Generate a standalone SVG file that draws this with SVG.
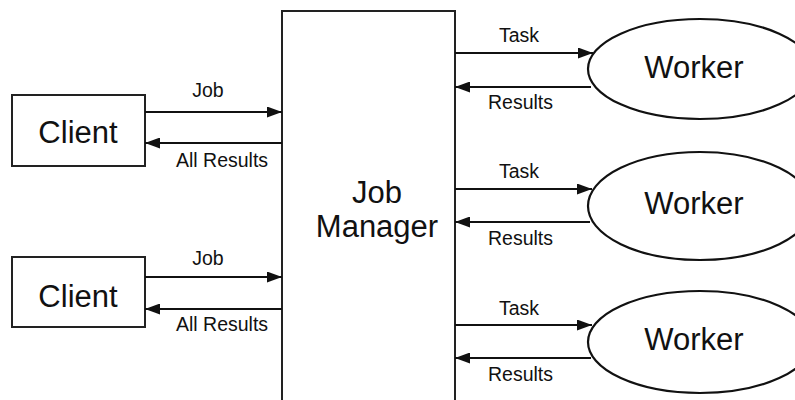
<svg xmlns="http://www.w3.org/2000/svg" width="795" height="400" viewBox="0 0 795 400">
<style>
.box{fill:#fff;stroke:#222;stroke-width:2}
.ell{fill:#fff;stroke:#111;stroke-width:2.2}
.big{font-family:"Liberation Sans",Arial,sans-serif;font-size:31px;fill:#111;text-anchor:middle}
.sm{font-family:"Liberation Sans",Arial,sans-serif;font-size:19.5px;fill:#111}
.c{text-anchor:middle}
.ln{stroke:#111;stroke-width:2.2;fill:none;marker-end:url(#ah)}
</style>
<defs>
<marker id="ah" viewBox="0 0 15 11" refX="15" refY="5.5" markerWidth="15" markerHeight="11" markerUnits="userSpaceOnUse" orient="auto">
<path d="M0,0 L15,5.5 L0,11 Z" fill="#111"/>
</marker>
</defs>
<rect width="795" height="400" fill="#fff"/>
<g id="jobmanager">
<rect class="box" x="282" y="11" width="173" height="400"/>
<text class="big" x="377" y="203">Job</text>
<text class="big" x="377" y="237">Manager</text>
</g>
<g id="client1">
<rect class="box" x="12" y="95" width="133" height="71"/>
<text class="big" x="78" y="143">Client</text>
</g>
<g id="client2">
<rect class="box" x="12" y="257" width="133" height="70"/>
<text class="big" x="78" y="307">Client</text>
</g>
<g id="worker1">
<ellipse class="ell" cx="700" cy="69" rx="112" ry="50"/>
<text class="big" x="694" y="78">Worker</text>
</g>
<g id="worker2">
<ellipse class="ell" cx="700" cy="206" rx="112" ry="54"/>
<text class="big" x="694" y="214">Worker</text>
</g>
<g id="worker3">
<ellipse class="ell" cx="700" cy="342" rx="112" ry="51"/>
<text class="big" x="694" y="350">Worker</text>
</g>
<g id="connectors">
<line class="ln" x1="145" y1="112" x2="282" y2="112"/>
<line class="ln" x1="282" y1="143" x2="145" y2="143"/>
<line class="ln" x1="145" y1="277" x2="282" y2="277"/>
<line class="ln" x1="282" y1="309" x2="145" y2="309"/>
<line class="ln" x1="455" y1="53" x2="593" y2="53"/>
<line class="ln" x1="591" y1="87" x2="455" y2="87"/>
<line class="ln" x1="455" y1="189" x2="592" y2="189"/>
<line class="ln" x1="590" y1="222" x2="455" y2="222"/>
<line class="ln" x1="455" y1="325" x2="592" y2="325"/>
<line class="ln" x1="591" y1="358" x2="455" y2="358"/>
<text class="sm c" x="208" y="97">Job</text>
<text class="sm" x="176" y="167">All Results</text>
<text class="sm c" x="208" y="265">Job</text>
<text class="sm" x="176" y="331">All Results</text>
<text class="sm c" x="519" y="42">Task</text>
<text class="sm" x="488" y="109">Results</text>
<text class="sm c" x="519" y="178">Task</text>
<text class="sm" x="488" y="245">Results</text>
<text class="sm c" x="519" y="315">Task</text>
<text class="sm" x="488" y="381">Results</text>
</g>
</svg>
